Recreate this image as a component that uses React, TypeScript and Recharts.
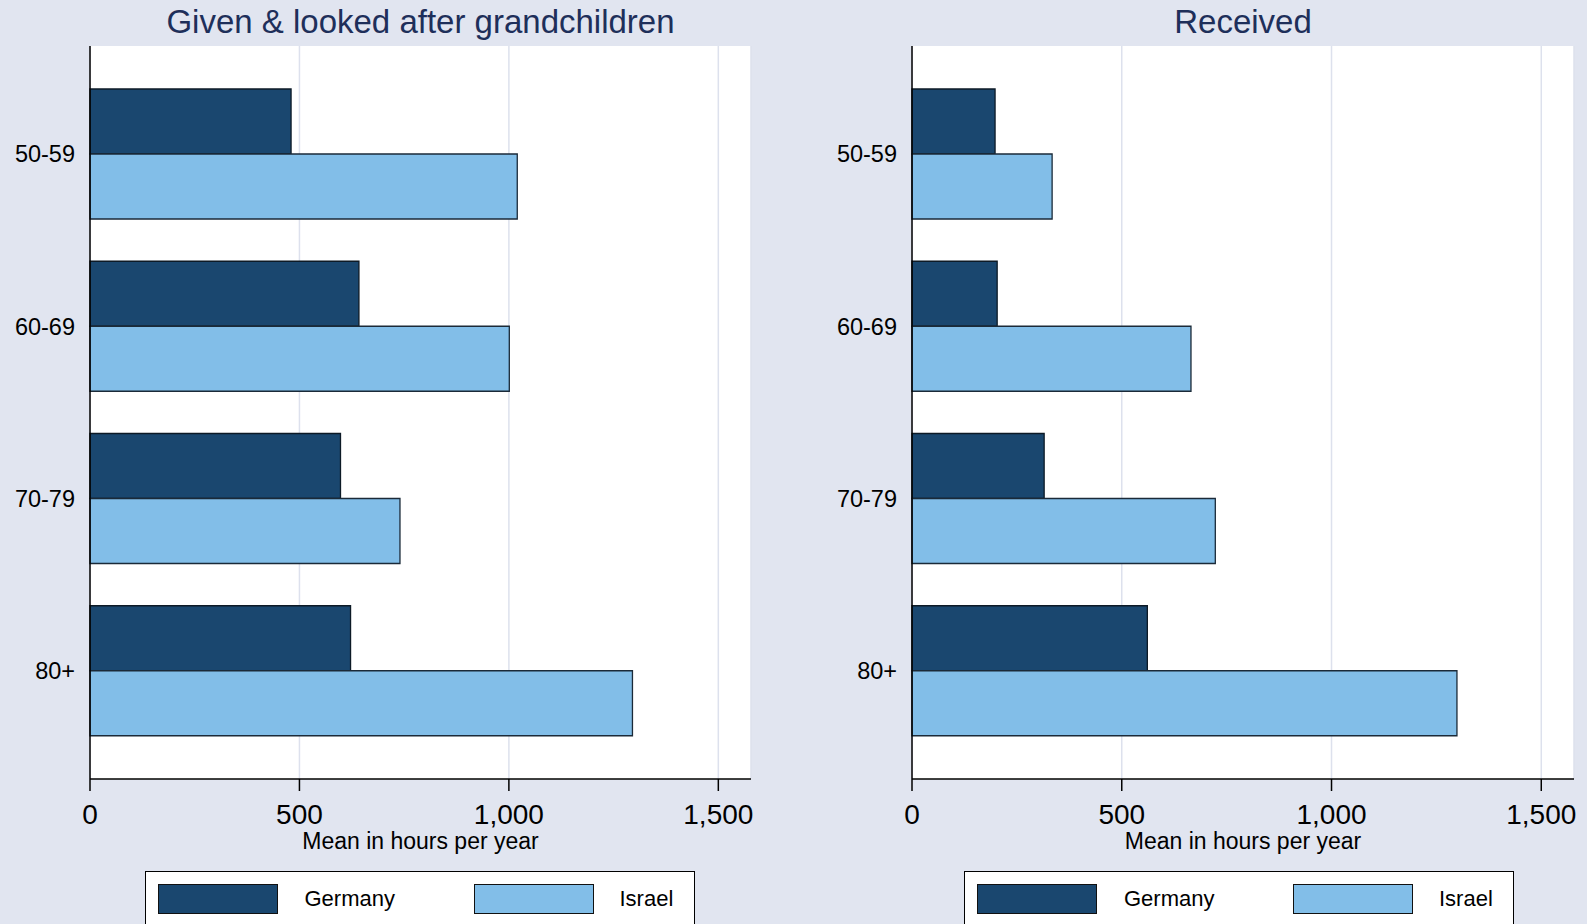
import { BarChart, Bar, XAxis, YAxis, CartesianGrid, Legend } from 'recharts'

const ageGroups = ['50-59', '60-69', '70-79', '80+']
const givenGermany = [480, 642, 598, 622]
const givenIsrael = [1020, 1001, 740, 1295]
const receivedGermany = [198, 203, 315, 561]
const receivedIsrael = [334, 665, 723, 1299]
const xTicks = [0, 500, 1000, 1500]

const BG = '#e1e5f0'
const NAVY = '#1a476f'
const LIGHT = '#82bee8'
const TITLE = '#1e2f5a'
const FONT = '"Liberation Sans", Arial, sans-serif'

const renderLegend = (props: any) => {
  const items = props.payload || []
  const spots = [
    { sw: 12, tx: 159 },
    { sw: 328, tx: 474 },
  ]
  return (
    <div
      style={{
        width: 550,
        height: 70,
        background: '#fff',
        border: '1.5px solid #000',
        boxSizing: 'border-box',
        position: 'relative',
        fontFamily: FONT,
      }}
    >
      {items.map((it: any, i: number) => (
        <div key={it.value}>
          <div
            style={{
              position: 'absolute',
              left: spots[i].sw,
              top: 12,
              width: 120,
              height: 30,
              background: it.color,
              border: '1.2px solid #111',
              boxSizing: 'border-box',
            }}
          />
          <div
            style={{
              position: 'absolute',
              left: spots[i].tx,
              top: 12,
              height: 30,
              lineHeight: '30px',
              fontSize: 22,
              color: '#000',
            }}
          >
            {it.value}
          </div>
        </div>
      ))}
    </div>
  )
}

interface PanelProps {
  title: string
  germany: number[]
  israel: number[]
  left: number
  width: number
  yWidth: number
  right: number
  legendShift: number
}

function Panel({ title, germany, israel, left, width, yWidth, right, legendShift }: PanelProps) {
  const data = ageGroups.map((age, i) => ({ age, germany: germany[i], israel: israel[i] }))
  const plotCenter = (yWidth + (width - right)) / 2
  return (
    <div style={{ position: 'absolute', left, top: 0, width, height: 924 }}>
      <div
        style={{
          position: 'absolute',
          left: plotCenter - 400,
          width: 800,
          top: 5,
          textAlign: 'center',
          fontFamily: FONT,
          fontSize: 33,
          lineHeight: '33px',
          color: TITLE,
          whiteSpace: 'nowrap',
        }}
      >
        {title}
      </div>
      <BarChart
        width={width}
        height={924}
        data={data}
        layout="vertical"
        margin={{ top: 46, right, left: 0, bottom: 75 }}
        barCategoryGap={21}
        barGap={0}
        style={{ fontFamily: FONT }}
      >
        <CartesianGrid horizontal={false} stroke="#dde1ed" strokeWidth={1.5} fill="#fff" />
        <XAxis
          type="number"
          domain={[0, 1578]}
          ticks={xTicks}
          tickFormatter={(v: number) => v.toLocaleString('en-US')}
          axisLine={{ stroke: '#000', strokeWidth: 1.5 }}
          tickLine={{ stroke: '#000', strokeWidth: 1.5 }}
          tickSize={12}
          tickMargin={13}
          tick={{ fontSize: 28, fill: '#000' }}
          height={70}
          label={{ value: 'Mean in hours per year', position: 'insideBottom', offset: 0, fontSize: 23, fill: '#000' }}
        />
        <YAxis
          type="category"
          dataKey="age"
          width={yWidth}
          axisLine={{ stroke: '#000', strokeWidth: 1.5 }}
          tickLine={false}
          tickSize={0}
          tickMargin={15}
          tick={{ fontSize: 23.5, fill: '#000' }}
          padding={{ top: 22, bottom: 22 }}
        />
        <Legend
          layout="horizontal"
          verticalAlign="middle"
          align="center"
          content={renderLegend}
          wrapperStyle={{ position: 'absolute', left: plotCenter - 275 + legendShift, top: 871, width: 550 }}
        />
        <Bar dataKey="germany" name="Germany" fill={NAVY} stroke="#0d1a26" strokeWidth={1.3} isAnimationActive={false} />
        <Bar dataKey="israel" name="Israel" fill={LIGHT} stroke="#1b2a38" strokeWidth={1.3} isAnimationActive={false} />
      </BarChart>
    </div>
  )
}

export default function App() {
  return (
    <div style={{ position: 'absolute', left: 0, top: 0, width: 1587, height: 924, background: BG, overflow: 'hidden' }}>
      <Panel title="Given & looked after grandchildren" germany={givenGermany} israel={givenIsrael} left={0} width={793} yWidth={90} right={42} legendShift={-1} />
      <Panel title="Received" germany={receivedGermany} israel={receivedIsrael} left={793} width={794} yWidth={119} right={13} legendShift={-4} />
    </div>
  )
}
